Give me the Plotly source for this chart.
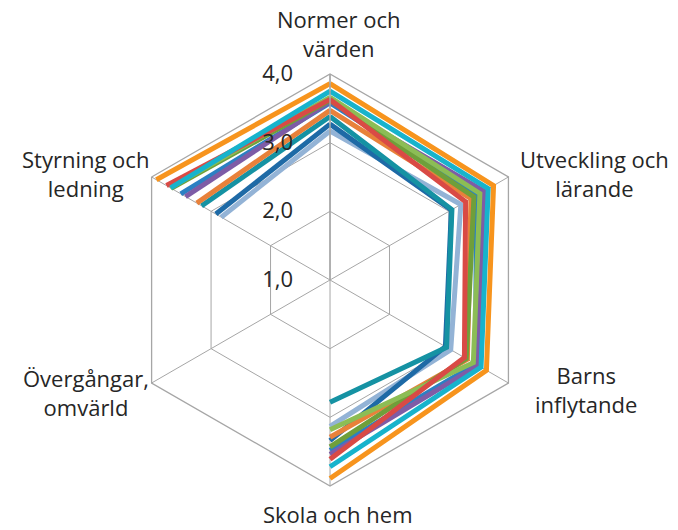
import plotly.graph_objects as go

# Kategorier (axlar) i medurs ordning med start uppifrån
categories = ['Normer och värden', 'Utveckling och lärande', 'Barns inflytande',
              'Skola och hem', 'Övergångar, omvärld', 'Styrning och ledning']
axis_labels = ['Normer och<br>värden', 'Utveckling och<br>lärande', 'Barns<br>inflytande',
               'Skola och hem', 'Övergångar,<br>omvärld', 'Styrning och<br>ledning']

# Värden per serie (samma ordning som categories), Övergångar saknas
s_orange = [3.86, 3.75, 3.63, 3.89, None, 3.92]
s_cyan = [3.75, 3.66, 3.54, 3.72, None, 3.68]
s_red = [3.63, 3.28, 3.26, 3.61, None, 3.75]
s_olive = [3.62, 3.42, 3.29, 3.43, None, 3.67]
s_green = [3.66, 3.52, 3.41, 3.18, None, 3.69]
s_purple = [3.60, 3.59, 3.49, 3.54, None, 3.43]
s_blue = [3.58, 3.46, 3.45, 3.48, None, 3.51]
s_darkorange = [3.47, 3.37, 3.31, 3.29, None, 3.24]
s_teal = [3.38, 3.05, 2.96, 2.78, None, 3.16]
s_darkblue = [3.27, 3.04, 2.94, 3.34, None, 2.92]
s_lightblue = [3.17, 3.20, 3.03, 3.13, None, 2.83]

series = [s_lightblue, s_darkblue, s_teal, s_darkorange, s_blue, s_purple,
          s_olive, s_green, s_red, s_cyan, s_orange]
colors = ['#93B3D6', '#1E6AA6', '#1592A3', '#E8813A', '#2B80C3', '#7E5CA6',
          '#6F9F3A', '#8CBD55', '#D94A45', '#17B3CC', '#F7941D']

tick_vals = [1, 2, 3, 4]
tick_text = ['1,0', '2,0', '3,0', '4,0']

fig = go.Figure()

for vals, col in zip(series, colors):
    fig.add_trace(go.Scatterpolar(
        r=vals + [vals[0]],
        theta=categories + [categories[0]],
        mode='lines',
        line=dict(color=col, width=5),
        connectgaps=False,
        showlegend=False,
        hoverinfo='skip'
    ))

grid = '#A6A6A6'
txt_col = '#262626'
pad = '\u00a0' * 5  # luft mellan etikett och axel
fig.update_layout(
    width=678, height=530,
    margin=dict(l=0, r=0, t=0, b=0),
    paper_bgcolor='white',
    font=dict(family='Open Sans, sans-serif', size=22, color=txt_col),
    polar=dict(
        domain=dict(x=[0.1711, 0.7788], y=[0.0981, 0.8755]),
        gridshape='linear',
        bgcolor='white',
        radialaxis=dict(
            range=[1, 4],
            angle=90,
            tickangle=90,
            side='counterclockwise',
            tickvals=tick_vals,
            ticktext=[t + pad for t in tick_text],
            ticks='',
            showline=True,
            linecolor=grid,
            linewidth=1.5,
            gridcolor=grid,
            gridwidth=1.3,
            tickfont=dict(size=22, color=txt_col),
        ),
        angularaxis=dict(
            direction='clockwise',
            rotation=90,
            showticklabels=False,
            ticks='',
            showline=True,
            linecolor=grid,
            linewidth=1.3,
            gridcolor=grid,
            gridwidth=1.3,
        ),
    ),
)

# Axeltitlar som centrerade etiketter utanför sexhörningen (pixlar -> paper)
label_px = [(330, 26), (586, 166), (578, 381), (330, 506), (78, 384), (77, 166)]
for txt, (px, py) in zip(axis_labels, label_px):
    fig.add_annotation(text=txt, x=px / 678, y=1 - py / 530,
                       xref='paper', yref='paper',
                       xanchor='center', yanchor='middle',
                       showarrow=False, align='center',
                       font=dict(size=22, color=txt_col))

fig.write_html("out.html")
